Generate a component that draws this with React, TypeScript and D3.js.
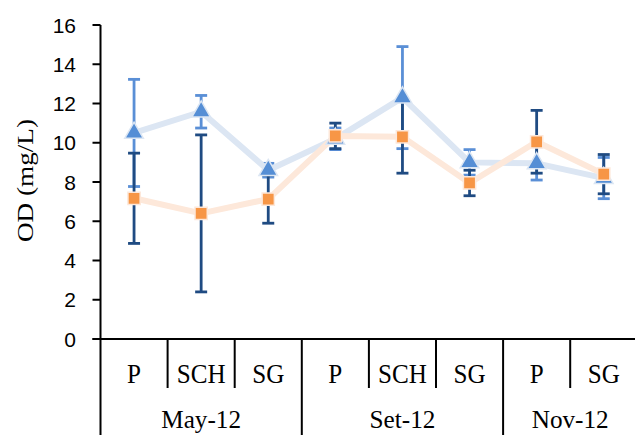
import React from 'react';
import * as d3 from 'd3';

// categorie e gruppi (mesi)
const categories = ['P', 'SCH', 'SG', 'P', 'SCH', 'SG', 'P', 'SG'];
const months = ['May-12', 'Set-12', 'Nov-12'];
const monthSpans = [3, 3, 2];

// serie triangoli (blu) e quadrati (arancio) con errori
const triValues = [10.5, 11.58, 8.6, 10.2, 12.3, 9.0, 8.95, 8.2];
const triErrors = [2.73, 0.83, 0.35, 0.55, 2.6, 0.65, 0.85, 1.05];
const sqValues = [7.17, 6.4, 7.13, 10.35, 10.3, 7.95, 10.05, 8.4];
const sqErrors = [2.3, 4.0, 1.23, 0.65, 1.85, 0.65, 1.6, 1.0];

const yTicks = [0, 2, 4, 6, 8, 10, 12, 14, 16];

const W = 635;
const H = 435;

const App = () => {
    const margin = { top: 25, left: 100.5, bottom: 339 };
    const idx = categories.map((_, i) => i);

    const x = d3.scaleBand<number>().domain(idx).range([margin.left, margin.left + 67.1 * categories.length]).padding(0);
    const y = d3.scaleLinear().domain([0, 16]).range([margin.bottom, margin.top]);
    const cx = (i: number) => (x(i) as number) + x.bandwidth() / 2;

    const line = d3
        .line<number>()
        .x((_, i) => cx(i))
        .y((d) => y(d));

    const tri = d3.symbol().type(d3.symbolTriangle).size(150);
    const sq = d3.symbol().type(d3.symbolSquare).size(150);

    const errBar = (vals: number[], errs: number[], color: string, key: string) =>
        vals.map((v, i) => {
            const top = y(v + errs[i]);
            const bot = y(v - errs[i]);
            const c = cx(i);
            return (
                <g key={key + i} stroke={color} strokeWidth={2.8}>
                    <line x1={c} x2={c} y1={top} y2={bot} />
                    <line x1={c - 6} x2={c + 6} y1={top} y2={top} />
                    <line x1={c - 6} x2={c + 6} y1={bot} y2={bot} />
                </g>
            );
        });

    // confini dei mesi
    let acc = 0;
    const monthBounds = monthSpans.map((s) => {
        const start = acc;
        acc += s;
        return { start, end: acc };
    });

    const serif = 'Liberation Serif, Times New Roman, serif';

    return (
        <svg width={W} height={H} style={{ position: 'absolute', left: 0, top: 0 }}>
            <rect width={W} height={H} fill="#fff" />
            {/* asse Y */}
            <line x1={margin.left} x2={margin.left} y1={margin.top} y2={H} stroke="#000" strokeWidth={2} />
            {yTicks.map((t) => (
                <g key={t}>
                    <line x1={margin.left - 8} x2={margin.left} y1={y(t)} y2={y(t)} stroke="#000" strokeWidth={2} />
                    <text
                        x={76}
                        y={y(t)}
                        dy="0.36em"
                        textAnchor="end"
                        fontFamily="Liberation Sans, Arial, sans-serif"
                        fontSize={21}
                        fill="#000"
                    >
                        {t}
                    </text>
                </g>
            ))}
            <text
                transform={`translate(33,${180.5}) rotate(-90)`}
                textAnchor="middle"
                fontFamily={serif}
                fontSize={24}
                textLength={123}
                lengthAdjust="spacingAndGlyphs"
                fill="#000"
            >
                OD (mg/L)
            </text>

            {/* asse X */}
            <line x1={margin.left - 8} x2={W} y1={y(0)} y2={y(0)} stroke="#000" strokeWidth={2} />
            {idx.slice(1).map((i) => {
                const isMonth = monthBounds.some((m) => m.start === i);
                return (
                    <line
                        key={'sep' + i}
                        x1={x(i)}
                        x2={x(i)}
                        y1={y(0)}
                        y2={isMonth ? H : 388}
                        stroke="#000"
                        strokeWidth={2}
                    />
                );
            })}
            {categories.map((c, i) => (
                <text
                    key={'cat' + i}
                    transform={`translate(${cx(i)},382.5) scale(0.93,1)`}
                    textAnchor="middle"
                    fontFamily={serif}
                    fontSize={27}
                    fill="#000"
                >
                    {c}
                </text>
            ))}
            {months.map((m, k) => {
                const b = monthBounds[k];
                const mid = ((x(b.start) as number) + (x(b.end - 1) as number) + x.bandwidth()) / 2;
                return (
                    <text
                        key={m}
                        transform={`translate(${mid},428) scale(0.97,1)`}
                        textAnchor="middle"
                        fontFamily={serif}
                        fontSize={26}
                        fill="#000"
                    >
                        {m}
                    </text>
                );
            })}

            {/* barre d'errore */}
            {errBar(triValues, triErrors, '#5a8fd6', 'te')}
            {errBar(sqValues, sqErrors, '#1f4b82', 'se')}

            {/* linee */}
            <path d={line(triValues) || ''} fill="none" stroke="#dce6f3" strokeWidth={6} strokeLinejoin="round" />
            <path d={line(sqValues) || ''} fill="none" stroke="#fde8da" strokeWidth={6} strokeLinejoin="round" />

            {/* marcatori */}
            {triValues.map((v, i) => (
                <path
                    key={'t' + i}
                    d={tri() || ''}
                    transform={`translate(${cx(i)},${y(v)})`}
                    fill="#558ed5"
                    stroke="#dce6f3"
                    strokeWidth={1.5}
                />
            ))}
            {sqValues.map((v, i) => (
                <path
                    key={'s' + i}
                    d={sq() || ''}
                    transform={`translate(${cx(i)},${y(v)})`}
                    fill="#f79646"
                    stroke="#fde8da"
                    strokeWidth={1.5}
                />
            ))}
        </svg>
    );
};

export default App;
